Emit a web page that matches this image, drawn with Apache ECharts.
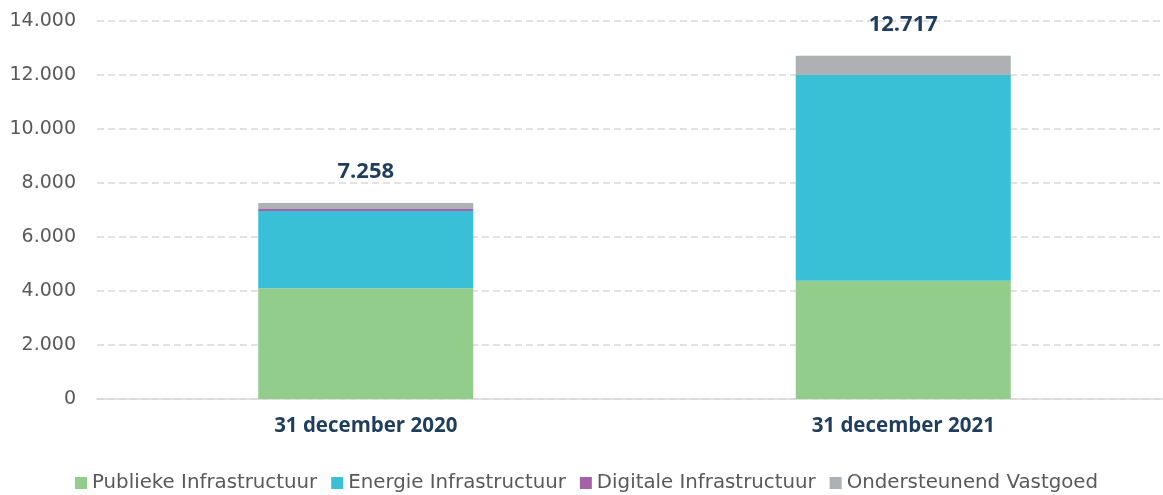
<!DOCTYPE html>
<html><head><meta charset="utf-8">
<script src="https://cdn.jsdelivr.net/npm/echarts@6/dist/echarts.min.js"></script>
<style>html,body{margin:0;padding:0;background:#fff;overflow:hidden}#c{width:1172px;height:495px}</style>
</head><body><div id="c"></div>
<script>
const categories = ['31 december 2020', '31 december 2021'];
const publiek = [4105, 4383];
const energie = [2860, 7619];
const digitaal = [75, 0];
const vastgoed = [218, 715];
const totals = [7258, 12717];
const yTicks = [0, 2000, 4000, 6000, 8000, 10000, 12000, 14000];

const fmt = v => String(v).replace(/\B(?=(\d{3})+(?!\d))/g, '.');
const FONT = 'DejaVu Sans';
const BOLD = 'Open Sans';
const chart = echarts.init(document.getElementById('c'));
function s(name, data, color, extra) {
  return Object.assign({ name, type: 'bar', stack: 'tot', data, barWidth: '40%',
    itemStyle: { color }, emphasis: { disabled: true } }, extra || {});
}
chart.setOption({
  animation: false,
  textStyle: { fontFamily: FONT },
  grid: { left: 97, top: 21, right: 0, bottom: 96, containLabel: false },
  legend: {
    bottom: -3, left: 70, itemWidth: 12, itemHeight: 12, itemGap: 14,
    icon: 'rect',
    textStyle: { fontFamily: FONT, fontSize: 19.8, color: '#595959' },
    data: ['Publieke Infrastructuur', 'Energie Infrastructuur', 'Digitale Infrastructuur', 'Ondersteunend Vastgoed']
  },
  xAxis: {
    type: 'category', data: categories,
    axisLine: { lineStyle: { color: '#d9d9d9', width: 1.5 } }, axisTick: { show: false },
    axisLabel: { fontFamily: BOLD, fontSize: 20.5, fontWeight: 'bold', color: '#1f3d5c', margin: 17 }
  },
  yAxis: {
    type: 'value', min: 0, max: 14000, interval: 2000,
    axisLine: { show: false }, axisTick: { show: false },
    splitLine: { lineStyle: { color: '#d9d9d9', type: [7, 4], width: 1.6 } },
    axisLabel: { fontFamily: FONT, fontSize: 19, color: '#595959', margin: 21,
      formatter: v => yTicks.includes(v) ? fmt(v) : '' }
  },
  series: [
    s('Publieke Infrastructuur', publiek, '#92cd8b'),
    s('Energie Infrastructuur', energie, '#39c0d6'),
    s('Digitale Infrastructuur', digitaal, '#a661ab'),
    s('Ondersteunend Vastgoed', vastgoed, '#aeb1b4', {
      label: { show: true, position: 'top', distance: 20,
        formatter: p => fmt(totals[p.dataIndex]),
        fontFamily: BOLD, fontSize: 22, fontWeight: 'bold', color: '#1f3d5c' }
    })
  ]
});
</script></body></html>
